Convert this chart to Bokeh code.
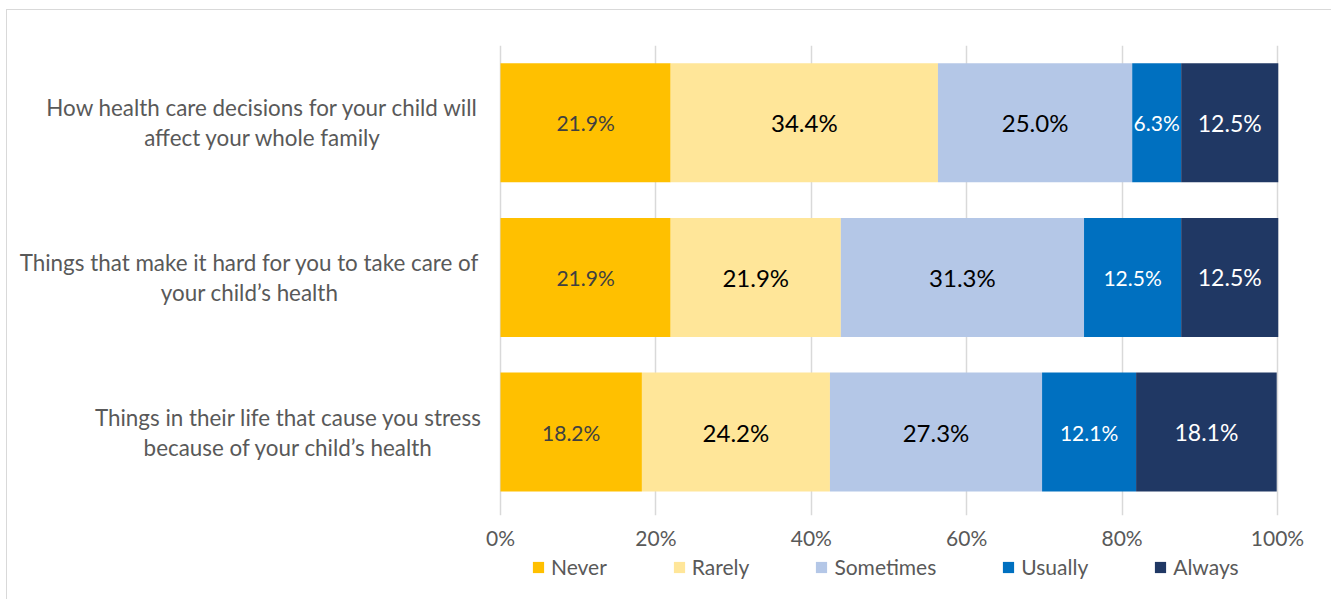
from bokeh.plotting import figure
from bokeh.layouts import column
from bokeh.models import ColumnDataSource, Range1d, Legend, LegendItem, FixedTicker
from bokeh.core.properties import value
from bokeh.embed import file_html
from bokeh.resources import INLINE

categories = [
    "How health care decisions for your child will\naffect your whole family",
    "Things that make it hard for you to take care of\nyour child\u2019s health",
    "Things in their life that cause you stress\nbecause of your child\u2019s health",
]
series = ["Never", "Rarely", "Sometimes", "Usually", "Always"]
never = [21.9, 21.9, 18.2]
rarely = [34.4, 21.9, 24.2]
sometimes = [25.0, 31.3, 27.3]
usually = [6.3, 12.5, 12.1]
always = [12.5, 12.5, 18.1]
ticks = [0, 20, 40, 60, 80, 100]
tick_labels = ["0%", "20%", "40%", "60%", "80%", "100%"]

values = [never, rarely, sometimes, usually, always]
colors = ["#FFC000", "#FFE699", "#B4C7E7", "#0070C0", "#203864"]
label_colors = ["#404040", "#000000", "#000000", "#FFFFFF", "#FFFFFF"]
label_sizes = ["21px", "24px", "24px", "21px", "23px"]
FONT = "Lato"
TEXT_GREY = "#595959"

rows = [2, 1, 0]

p1 = figure(width=1324, height=545, output_backend="svg", toolbar_location=None,
            x_range=Range1d(-63.45, 106.95), y_range=Range1d(-0.54, 2.50),
            min_border_left=0, min_border_right=0, min_border_top=35,
            min_border_bottom=40)
p1.outline_line_color = None

# legend strip (shares the bar data; its ranges keep the bars out of view)
p2 = figure(width=1324, height=44, output_backend="svg", toolbar_location=None,
            x_range=Range1d(-63.45, 106.95), y_range=Range1d(10, 11),
            min_border_left=0, min_border_right=0, min_border_top=0,
            min_border_bottom=0)
p2.outline_line_color = None
p2.axis.visible = False
p2.grid.visible = False

items = []
left = [0.0, 0.0, 0.0]
for name, vals, col, lc, ls in zip(series, values, colors, label_colors, label_sizes):
    right = [l + v for l, v in zip(left, vals)]
    mid = [(l + r) / 2 for l, r in zip(left, right)]
    src = ColumnDataSource(dict(y=rows, left=left, right=right, mid=mid,
                                txt=["%.1f%%" % v for v in vals]))
    p1.hbar(y="y", left="left", right="right", height=0.77, source=src,
            fill_color=col, line_color=None)
    p1.text(x="mid", y="y", text="txt", source=src, text_align="center",
            text_baseline="middle", text_color=lc, text_font_size=ls,
            text_font=value(FONT))
    r = p2.hbar(y="y", left="left", right="right", height=0.77, source=src,
                fill_color=col, line_color=None)
    items.append(LegendItem(label=name, renderers=[r]))
    left = right

# category labels (two centred lines each)
centers = [-30.6, -32.3, -27.3]
line1 = [c.split("\n")[0] for c in categories]
line2 = [c.split("\n")[1] for c in categories]
for lines, off in ((line1, -15), (line2, 15)):
    src = ColumnDataSource(dict(x=centers, y=rows, t=lines))
    p1.text(x="x", y="y", text="t", source=src, y_offset=off, text_align="center",
            text_baseline="middle", text_color=TEXT_GREY, text_font_size="22.4px",
            text_font=value(FONT))

p1.yaxis.visible = False
p1.ygrid.visible = False
p1.xaxis.ticker = FixedTicker(ticks=ticks)
p1.xaxis.major_label_overrides = {t: l for t, l in zip(ticks, tick_labels)}
p1.xaxis.axis_line_color = None
p1.xaxis.major_tick_line_color = None
p1.xaxis.minor_tick_line_color = None
p1.xaxis.major_label_text_font = FONT
p1.xaxis.major_label_text_font_size = "21px"
p1.xaxis.major_label_text_color = TEXT_GREY
p1.xaxis.major_label_standoff = 3
p1.xgrid.ticker = FixedTicker(ticks=ticks)
p1.xgrid.grid_line_color = "#d9d9d9"
p1.xgrid.grid_line_width = 1.5

legend = Legend(items=items, orientation="horizontal", location=(524, 20),
                glyph_width=14, glyph_height=14, label_standoff=6, spacing=65,
                label_text_font=FONT, label_text_font_size="21px",
                label_text_color=TEXT_GREY, border_line_color=None,
                background_fill_alpha=0, margin=0, padding=0)
p2.add_layout(legend)

p = column(p1, p2, spacing=0)
p.styles = {"margin-left": "6px", "margin-top": "9px",
            "border-left": "1px solid #d9d9d9", "border-top": "1px solid #d9d9d9"}

open("out.html", "w").write(file_html(p, INLINE))
